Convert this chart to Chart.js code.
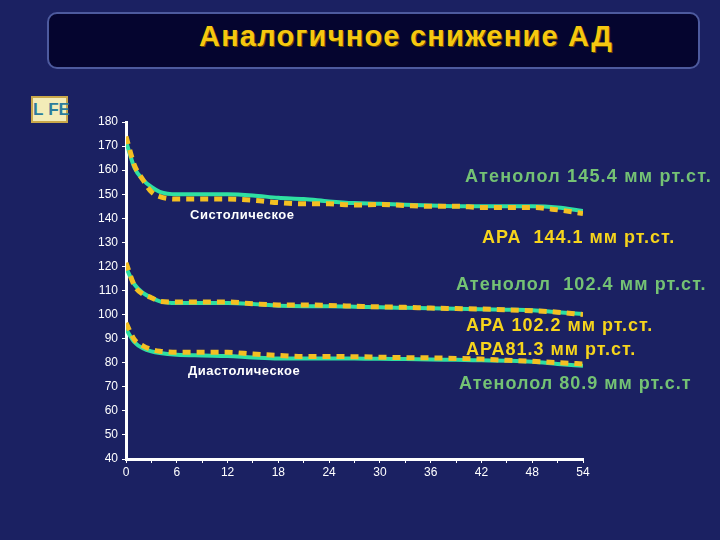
<!DOCTYPE html>
<html>
<head>
<meta charset="utf-8">
<script src="https://cdn.jsdelivr.net/npm/chart.js@4"></script>
<style>
  html, body { margin: 0; padding: 0; background: #1b2162; }
  #wrap { position: relative; width: 720px; height: 540px; overflow: hidden; }
  #title {
    position: absolute; left: 47px; top: 12px; width: 653px; height: 57px;
    background: #05052f; border: 2px solid #4d5a9e; border-radius: 10px;
    box-sizing: border-box;
  }
  #title span {
    position: absolute; left: 150px; top: 6px;
    font: bold 29px "Liberation Sans", Arial, sans-serif; color: #f6c810;
    letter-spacing: 1.2px; line-height: 32px; white-space: nowrap;
    text-shadow: 1px 1px 0 #6a4800;
  }
  #logo {
    position: absolute; left: 31px; top: 96px; width: 37px; height: 27px;
    background: #f3ecb8; border: 2px solid #c9a84a; box-sizing: border-box;
    font: bold 17px "Liberation Sans Narrow", "Liberation Sans", Arial, sans-serif;
    color: #2b7c9c; text-align: center; line-height: 23px; letter-spacing: 0px;
  }
  #logo span { color: #f3ecb8; }
  canvas { position: absolute; left: 0; top: 0; }
</style>
</head>
<body>
<div id="wrap">
  <div id="title"><span>Аналогичное снижение АД</span></div>
  <div id="logo">L<span>I</span>FE</div>
  <canvas id="chart" width="720" height="540"></canvas>
</div>
<script>
// ---- data ----
const weeks = [0, 1, 2, 3, 4, 6, 9, 12, 15, 18, 21, 24, 27, 30, 33, 36, 39, 42, 45, 48, 51, 54];

const sysAtenolol = [172, 161, 156, 153, 151, 150, 150, 150, 149.5, 148.5, 148, 147, 146.3, 146, 145.6, 145.3, 145, 145, 145, 145, 144.5, 143];
const sysARA      = [174, 162, 156, 151, 149, 148, 148, 148, 147.5, 146.5, 146, 146, 145.5, 145.7, 145.3, 145, 145, 144.5, 144.5, 144.5, 143.5, 142];

const midAtenolol = [119.5, 112.5, 109, 107, 105.5, 104.8, 104.8, 104.8, 104.4, 103.7, 103.5, 103.5, 103.3, 103, 102.8, 102.6, 102.4, 102.2, 102, 101.8, 101, 100.2];
const midARA      = [121.5, 112, 108.5, 107, 105.5, 105.2, 105.2, 105.2, 104.5, 104, 104, 103.8, 103.5, 103.2, 103, 102.7, 102.5, 102.3, 102, 101.6, 101, 100];

const diaAtenolol = [94, 88.5, 86, 84.7, 84, 83.3, 83, 82.8, 82.2, 81.8, 81.8, 81.8, 81.8, 81.6, 81.5, 81.3, 81.2, 81, 80.8, 80.4, 79.5, 78.7];
const diaARA      = [96.5, 89.5, 87, 85.5, 84.8, 84.3, 84.3, 84.3, 83.6, 83, 82.6, 82.6, 82.5, 82.3, 82.1, 82, 81.8, 81.5, 81, 80.6, 80, 79.5];

const yMin = 40, yMax = 180, yStep = 10;
const xMin = 0, xMax = 54, xStep = 3, xLabelStep = 6;

const GREEN = '#2fe0a2';
const YELLOW = '#f4bf22';
const FONT = '"Liberation Sans", Arial, sans-serif';

const toPoints = vals => vals.map((v, i) => ({ x: weeks[i], y: v }));

function greenSet(vals) {
  return {
    data: toPoints(vals), borderColor: GREEN, borderWidth: 4,
    pointRadius: 0, cubicInterpolationMode: 'monotone', order: 2,
  };
}
function yellowSet(vals) {
  return {
    data: toPoints(vals), borderColor: YELLOW, borderWidth: 5, borderDash: [8, 6],
    pointRadius: 0, cubicInterpolationMode: 'monotone', order: 1,
  };
}

// text labels next to the curves
const notes = [
  { text: 'Атенолол 145.4 мм рт.ст.', x: 465, y: 177, color: '#74c274', size: 18, sp: 1.2 },
  { text: 'Систолическое', x: 190, y: 215, color: '#ffffff', size: 13, sp: 0.5 },
  { text: 'АРА  144.1 мм рт.ст.', x: 482, y: 238, color: '#f6d41c', size: 18, sp: 1 },
  { text: 'Атенолол  102.4 мм рт.ст.', x: 456, y: 285, color: '#74c274', size: 18, sp: 1.1 },
  { text: 'АРА 102.2 мм рт.ст.', x: 466, y: 326, color: '#f6d41c', size: 18, sp: 1 },
  { text: 'АРА81.3 мм рт.ст.', x: 466, y: 350, color: '#f6d41c', size: 18, sp: 1 },
  { text: 'Диастолическое', x: 188, y: 371, color: '#ffffff', size: 13, sp: 0.5 },
  { text: 'Атенолол 80.9 мм рт.с.т', x: 459, y: 384, color: '#74c274', size: 18, sp: 1 },
];

const notesPlugin = {
  id: 'notes',
  afterDatasetsDraw(chart) {
    const ctx = chart.ctx;
    ctx.save();
    ctx.textAlign = 'left';
    ctx.textBaseline = 'middle';
    notes.forEach(n => {
      ctx.font = `bold ${n.size}px ${FONT}`;
      ctx.letterSpacing = n.sp + 'px';
      ctx.fillStyle = n.color;
      ctx.fillText(n.text, n.x, n.y);
    });
    ctx.restore();
  },
};

new Chart(document.getElementById('chart'), {
  type: 'line',
  data: {
    datasets: [
      greenSet(sysAtenolol), yellowSet(sysARA),
      greenSet(midAtenolol), yellowSet(midARA),
      greenSet(diaAtenolol), yellowSet(diaARA),
    ],
  },
  options: {
    responsive: false,
    animation: false,
    layout: { padding: { left: 0, top: 122, right: 137, bottom: 51 } },
    plugins: { legend: { display: false }, tooltip: { enabled: false } },
    scales: {
      x: {
        type: 'linear', min: xMin, max: xMax,
        afterFit: s => { s.height = 30; },
        ticks: {
          stepSize: xStep, color: '#ffffff', font: { family: FONT, size: 12 },
          maxRotation: 0, autoSkip: false, padding: 2,
          callback: v => (v % xLabelStep === 0 ? v : ''),
        },
        grid: { drawOnChartArea: false, color: '#ffffff', tickLength: 4, lineWidth: 1 },
        border: { color: '#ffffff', width: 3 },
      },
      y: {
        min: yMin, max: yMax,
        afterFit: s => { s.width = 126; },
        ticks: {
          stepSize: yStep, color: '#ffffff', font: { family: FONT, size: 12 }, padding: 4,
        },
        grid: { drawOnChartArea: false, color: '#ffffff', tickLength: 4, lineWidth: 1 },
        border: { color: '#ffffff', width: 3 },
      },
    },
  },
  plugins: [notesPlugin],
});
</script>
</body>
</html>
